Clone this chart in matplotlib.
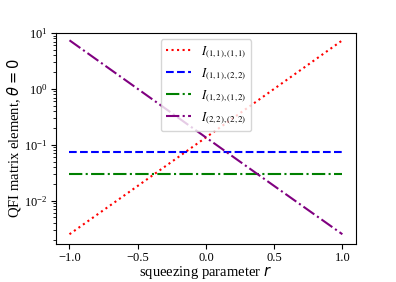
import matplotlib
matplotlib.use("Agg")
import matplotlib.pyplot as plt
from matplotlib.font_manager import FontProperties

# Werte
r = [-1.0, -0.5, 0.0, 0.5, 1.0]
I_11_11 = [0.0025, 0.0183, 0.135, 1.0, 7.4]
I_11_22 = [0.075, 0.075, 0.075, 0.075, 0.075]
I_12_12 = [0.030, 0.030, 0.030, 0.030, 0.030]
I_22_22 = [7.4, 1.0, 0.135, 0.0183, 0.0025]

labels = [r"$I_{(1,1),(1,1)}$", r"$I_{(1,1),(2,2)}$",
          r"$I_{(1,2),(1,2)}$", r"$I_{(2,2),(2,2)}$"]

plt.rcParams['font.family'] = 'Liberation Serif'
plt.rcParams['mathtext.fontset'] = 'dejavusans'

fig, ax = plt.subplots(figsize=(3.96, 2.82), dpi=100)
fig.subplots_adjust(left=0.141, right=0.899, top=0.883, bottom=0.135)

ax.plot(r, I_11_11, color='red', linestyle=':', lw=1.5, label=labels[0])
ax.plot(r, I_11_22, color='blue', linestyle='--', lw=1.5, label=labels[1])
ax.plot(r, I_12_12, color='green', linestyle='-.', lw=1.5, label=labels[2])
ax.plot(r, I_22_22, color='purple', linestyle='-.', lw=1.5, label=labels[3])

ax.set_yscale('log')
ax.set_ylim(top=10)
ax.tick_params(labelsize=9, pad=2.5)
ax.set_xlabel(r"squeezing parameter $r$", fontsize=10.5, labelpad=0)
ax.set_ylabel(r"QFI matrix element, $\theta = 0$", fontsize=10.5, labelpad=1)

leg_font = FontProperties(family='Liberation Serif', size=9, math_fontfamily='stix')
ax.legend(loc='upper center', prop=leg_font)

fig.savefig("out.png", dpi=100)
